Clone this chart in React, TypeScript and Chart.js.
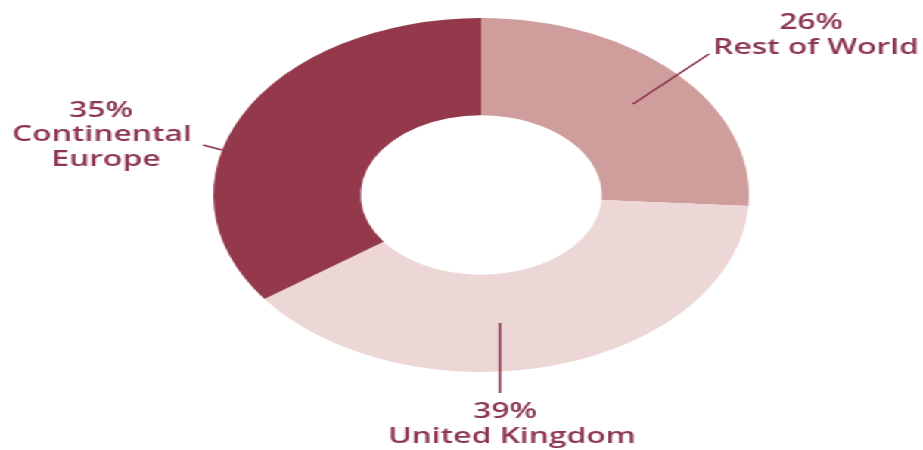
import React, { useEffect, useRef } from "react";
import { Chart, registerables } from "chart.js";

Chart.register(...registerables);

const categories = ["Rest of World", "United Kingdom", "Continental Europe"];
const shares = [26, 39, 35];
const colors = ["#cf9d9c", "#ecd7d6", "#94394b"];
const TEXT = "#8c3650";
const SX = 923 / 610;

const labelPlugin = {
  id: "donutLabels",
  afterDraw(chart: any) {
    const ctx = chart.ctx;
    ctx.save();
    ctx.fillStyle = TEXT;
    ctx.strokeStyle = TEXT;
    ctx.lineWidth = 1.6;
    ctx.font = "600 21px 'Open Sans'";
    ctx.textAlign = "center";
    ctx.textBaseline = "middle";
    const line = (x1: number, y1: number, x2: number, y2: number) => {
      ctx.beginPath();
      ctx.moveTo(x1 / SX, y1);
      ctx.lineTo(x2 / SX, y2);
      ctx.stroke();
    };
    const txt = (s: string, x: number, y: number) => ctx.fillText(s, x / SX, y);
    // Rest of World
    txt(`${shares[0]}%`, 811, 23);
    txt(categories[0], 816, 48);
    line(709, 54, 633, 104);
    // United Kingdom
    line(500, 323, 500, 393);
    txt(`${shares[1]}%`, 505, 412);
    txt(categories[1], 512, 437);
    // Continental Europe
    txt(`${shares[2]}%`, 101, 111);
    txt("Continental", 102, 135);
    txt("Europe", 106, 160);
    line(203, 145, 222, 150);
    ctx.restore();
  },
};

export default function App() {
  const ref = useRef<HTMLCanvasElement>(null);
  useEffect(() => {
    document.body.style.margin = "0";
    const chart = new Chart(ref.current!, {
      type: "doughnut",
      data: {
        labels: categories,
        datasets: [
          {
            data: shares,
            backgroundColor: colors,
            borderWidth: 0,
          },
        ],
      },
      options: {
        responsive: false,
        animation: false,
        cutout: "45%",
        layout: { padding: { top: 18, bottom: 78, left: 141, right: 115 } },
        plugins: { legend: { display: false }, tooltip: { enabled: false } },
      },
      plugins: [labelPlugin],
    });
    return () => chart.destroy();
  }, []);
  return (
    <div
      style={{
        position: "absolute",
        left: 0,
        top: 0,
        width: 610,
        height: 450,
        transform: `scaleX(${SX})`,
        transformOrigin: "0 0",
        background: "#fff",
      }}
    >
      <canvas ref={ref} width={610} height={450} style={{ width: 610, height: 450 }} />
    </div>
  );
}
